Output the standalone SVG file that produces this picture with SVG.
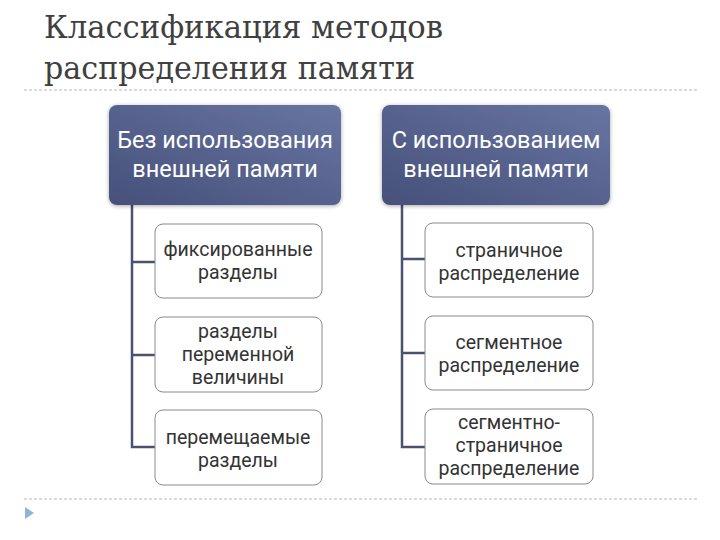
<svg xmlns="http://www.w3.org/2000/svg" width="720" height="540" viewBox="0 0 720 540">
<defs>
<linearGradient id="hg" x1="0" y1="1" x2="1" y2="0">
<stop offset="0" stop-color="#46507a"/>
<stop offset="1" stop-color="#6875a2"/>
</linearGradient>
<filter id="sh" x="-10%" y="-10%" width="120%" height="130%">
<feGaussianBlur in="SourceAlpha" stdDeviation="2"/>
<feOffset dx="0" dy="1"/>
<feComponentTransfer><feFuncA type="linear" slope="0.35"/></feComponentTransfer>
<feMerge><feMergeNode/><feMergeNode in="SourceGraphic"/></feMerge>
</filter>
</defs>
<style>
.title{font-family:"DejaVu Serif",serif;font-size:31px;fill:#404040}
.head{fill:url(#hg);filter:url(#sh)}
.ht{font-family:Roboto,"DejaVu Sans",sans-serif;font-size:23.5px;fill:#ffffff;text-anchor:middle}
.box{fill:#ffffff;stroke:#8a8a8a;stroke-width:1}
.bt{font-family:Roboto,"DejaVu Sans",sans-serif;font-size:19.5px;fill:#333333;text-anchor:middle}
.con{fill:none;stroke:#4b5170;stroke-width:2.5}
.sep{stroke:#b8b8b8;stroke-width:1;stroke-dasharray:3 2}
</style>
<rect width="720" height="540" fill="#ffffff"/>
<text class="title" x="44" y="38" textLength="399" lengthAdjust="spacingAndGlyphs">Классификация методов</text>
<text class="title" x="44" y="79" textLength="371" lengthAdjust="spacingAndGlyphs">распределения памяти</text>
<line class="sep" x1="24" y1="90" x2="698" y2="90"/>
<line class="sep" x1="24" y1="499" x2="698" y2="499"/>
<polygon points="25,507 34,513 25,519" fill="#8fb4d8"/>
<g id="connectors">
<path class="con" d="M132,205 V447 H155 M132,262 H155 M132,355 H155"/>
<path class="con" d="M402,205 V447 H425 M402,259 H425 M402,353 H425"/>
</g>
<g id="h1">
<rect class="head" x="109" y="105" width="232" height="100" rx="8"/>
<text class="ht" x="225" y="148">Без использования</text>
<text class="ht" x="225" y="177">внешней памяти</text>
</g>
<g id="h2">
<rect class="head" x="382" y="105" width="228" height="100" rx="8"/>
<text class="ht" x="496" y="148">С использованием</text>
<text class="ht" x="496" y="177">внешней памяти</text>
</g>
<g id="l1">
<rect class="box" x="155" y="224" width="167" height="74" rx="8"/>
<text class="bt" x="238" y="256">фиксированные</text>
<text class="bt" x="238" y="279">разделы</text>
</g>
<g id="l2">
<rect class="box" x="155" y="317" width="167" height="75" rx="8"/>
<text class="bt" x="238" y="338">разделы</text>
<text class="bt" x="238" y="361">переменной</text>
<text class="bt" x="238" y="384">величины</text>
</g>
<g id="l3">
<rect class="box" x="155" y="410" width="167" height="75" rx="8"/>
<text class="bt" x="238" y="444">перемещаемые</text>
<text class="bt" x="238" y="467">разделы</text>
</g>
<g id="r1">
<rect class="box" x="425" y="223" width="168" height="74" rx="8"/>
<text class="bt" x="509" y="257">страничное</text>
<text class="bt" x="509" y="280">распределение</text>
</g>
<g id="r2">
<rect class="box" x="425" y="316" width="168" height="74" rx="8"/>
<text class="bt" x="509" y="349">сегментное</text>
<text class="bt" x="509" y="372">распределение</text>
</g>
<g id="r3">
<rect class="box" x="425" y="409" width="168" height="75" rx="8"/>
<text class="bt" x="509" y="429">сегментно-</text>
<text class="bt" x="509" y="452">страничное</text>
<text class="bt" x="509" y="475">распределение</text>
</g>
</svg>
